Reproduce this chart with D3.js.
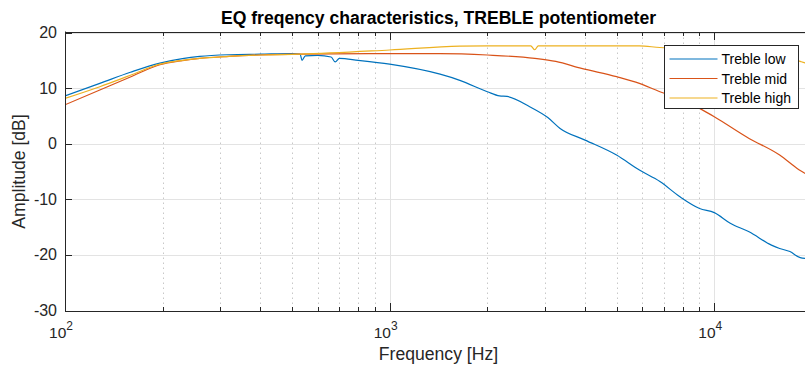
<!DOCTYPE html>
<html>
<head>
<meta charset="utf-8">
<script src="https://cdn.jsdelivr.net/npm/d3@7"></script>
<style>
    body { margin: 0; background: #fff; }
    text { font-family: "Liberation Sans", Arial, Helvetica, sans-serif; fill: #262626; }
</style>
</head>
<body>
<script>
// Series data (frequency in Hz, amplitude in dB)
const lowFreq = [100, 128, 159, 196, 230, 260, 320, 400, 500, 530, 537, 550, 600, 660, 680, 700, 800, 1000, 1430, 1645, 2000, 2180, 2300, 2700, 3070, 3350, 4000, 5000, 5880, 6800, 7840, 9010, 10000, 11200, 12800, 15000, 15900, 17100, 18400, 19500, 20000];
const lowDb = [8.6, 10.85, 12.85, 14.5, 15.3, 15.7, 16.0, 16.1, 16.2, 16.1, 15.0, 15.8, 15.9, 15.6, 14.7, 15.35, 15.0, 14.3, 12.5, 11.4, 9.35, 8.6, 8.5, 6.65, 4.7, 2.75, 0.65, -2.05, -4.75, -6.8, -9.55, -11.65, -12.4, -14.3, -15.85, -18.25, -18.85, -19.4, -20.5, -20.7, -20.8];

const midFreq = [100, 128, 159, 196, 230, 260, 320, 400, 530, 1000, 1430, 2000, 2800, 3250, 3900, 5000, 5880, 6800, 7840, 9010, 10000, 12800, 15900, 18000, 19500, 20000];
const midDb = [7.0, 9.65, 12.0, 14.2, 14.95, 15.35, 15.7, 15.95, 16.1, 16.2, 16.2, 15.95, 15.35, 14.8, 13.55, 12.05, 10.85, 9.35, 8.15, 6.35, 4.85, 0.95, -2.05, -4.45, -5.8, -6.4];

const highFreq = [100, 128, 159, 196, 230, 260, 320, 400, 530, 1000, 1645, 2000, 2720, 2800, 2870, 5880, 6800, 9000, 12000, 16000, 18400, 19500, 20000];
const highDb = [8.15, 10.25, 12.3, 14.3, 15.0, 15.35, 15.7, 15.95, 16.1, 16.85, 17.55, 17.6, 17.6, 16.9, 17.6, 17.6, 17.3, 17.1, 16.6, 15.6, 14.8, 14.3, 14.0];

const seriesNames = ["Treble low", "Treble mid", "Treble high"];
const seriesColors = ["#0072BD", "#D95319", "#EDB120"];

const yTicks = [-30, -20, -10, 0, 10, 20];
const xDecades = [100, 1000, 10000];

// Layout
const width = 805, height = 367;
const margin = { left: 65, top: 32.5, right: 812, bottom: 310.5 };

const x = d3.scaleLog().domain([100, 20000]).range([margin.left, margin.right]);
const y = d3.scaleLinear().domain([-30, 20]).range([margin.bottom, margin.top]);

const svg = d3.select("body")
    .append("svg")
    .attr("width", width)
    .attr("height", height);

// Clip to the axes box
svg.append("defs")
    .append("clipPath").attr("id", "plotClip")
    .append("rect")
    .attr("x", margin.left)
    .attr("y", margin.top)
    .attr("width", margin.right - margin.left)
    .attr("height", margin.bottom - margin.top);

// minor x ticks: 2..9 of every decade
const minorTicks = [];
xDecades.forEach(d => {
    for (let k = 2; k <= 9; ++k) {
        if (d * k <= 20000) minorTicks.push(d * k);
    }
});

// Grid
const grid = svg.append("g").attr("clip-path", "url(#plotClip)");
grid.selectAll(".minorGrid")
    .data(minorTicks)
    .join("line")
    .attr("x1", d => Math.round(x(d)) + 0.5)
    .attr("x2", d => Math.round(x(d)) + 0.5)
    .attr("y1", margin.top)
    .attr("y2", margin.bottom)
    .attr("stroke", "#c8c8c8")
    .attr("stroke-width", 1)
    .attr("stroke-dasharray", "1.5,3.5");
grid.selectAll(".majorGridX")
    .data(xDecades)
    .join("line")
    .attr("x1", d => Math.round(x(d)) + 0.5)
    .attr("x2", d => Math.round(x(d)) + 0.5)
    .attr("y1", margin.top)
    .attr("y2", margin.bottom)
    .attr("stroke", "#e3e3e3")
    .attr("stroke-width", 1);
grid.selectAll(".majorGridY")
    .data(yTicks)
    .join("line")
    .attr("x1", margin.left)
    .attr("x2", margin.right)
    .attr("y1", d => Math.round(y(d)) + 0.5)
    .attr("y2", d => Math.round(y(d)) + 0.5)
    .attr("stroke", "#e3e3e3")
    .attr("stroke-width", 1.2);

// Curves
const line = d3.line()
    .x(d => x(d[0]))
    .y(d => y(d[1]))
    .curve(d3.curveMonotoneX);

const seriesData = [
    d3.zip(lowFreq, lowDb),
    d3.zip(midFreq, midDb),
    d3.zip(highFreq, highDb)
];

const curves = svg.append("g").attr("clip-path", "url(#plotClip)");
curves.selectAll("path")
    .data(seriesData)
    .join("path")
    .attr("d", line)
    .attr("fill", "none")
    .attr("stroke", (d, i) => seriesColors[i])
    .attr("stroke-width", 1.2);

// Axes box and ticks
const axes = svg.append("g");
const axisColor = "#262626";
axes.append("line")
    .attr("x1", margin.left).attr("x2", margin.right)
    .attr("y1", Math.round(margin.bottom) + 0.5).attr("y2", Math.round(margin.bottom) + 0.5)
    .attr("stroke", axisColor).attr("stroke-width", 1);
axes.append("line")
    .attr("x1", margin.left).attr("x2", margin.right)
    .attr("y1", Math.round(margin.top) - 0.5).attr("y2", Math.round(margin.top) - 0.5)
    .attr("stroke", axisColor).attr("stroke-width", 1);
axes.append("line")
    .attr("x1", margin.left + 0.5).attr("x2", margin.left + 0.5)
    .attr("y1", margin.top - 1).attr("y2", margin.bottom + 1)
    .attr("stroke", axisColor).attr("stroke-width", 1);

// y ticks (inward) and labels
axes.selectAll(".yTick")
    .data(yTicks)
    .join("line")
    .attr("x1", margin.left)
    .attr("x2", margin.left + 7)
    .attr("y1", d => Math.round(y(d)) + 0.5)
    .attr("y2", d => Math.round(y(d)) + 0.5)
    .attr("stroke", axisColor);
axes.selectAll(".yLabel")
    .data(yTicks)
    .join("text")
    .attr("x", margin.left - 8)
    .attr("y", d => y(d) + 5.5)
    .attr("text-anchor", "end")
    .attr("font-size", 16)
    .text(d => d);

// x ticks on bottom and top edges
[{ y0: Math.round(margin.bottom), dir: -1 }, { y0: Math.round(margin.top) - 1, dir: 1 }].forEach(edge => {
    axes.selectAll(null)
        .data(minorTicks)
        .join("line")
        .attr("x1", d => Math.round(x(d)) + 0.5)
        .attr("x2", d => Math.round(x(d)) + 0.5)
        .attr("y1", edge.y0)
        .attr("y2", edge.y0 + edge.dir * 4)
        .attr("stroke", axisColor);
    axes.selectAll(null)
        .data(xDecades)
        .join("line")
        .attr("x1", d => Math.round(x(d)) + 0.5)
        .attr("x2", d => Math.round(x(d)) + 0.5)
        .attr("y1", edge.y0)
        .attr("y2", edge.y0 + edge.dir * 8)
        .attr("stroke", axisColor);
});

// decade labels as 10^n
const xLabels = axes.selectAll(".xLabel")
    .data(xDecades)
    .join("text")
    .attr("x", d => x(d) - 4)
    .attr("y", 338)
    .attr("text-anchor", "middle")
    .attr("font-size", 15.5);
xLabels.append("tspan").text("10");
xLabels.append("tspan")
    .attr("dy", -8)
    .attr("font-size", 12)
    .text(d => Math.round(Math.log10(d)));

// Title and axis labels
svg.append("text")
    .attr("x", (margin.left + margin.right) / 2)
    .attr("y", 23.5)
    .attr("text-anchor", "middle")
    .attr("font-size", 17.6)
    .attr("font-weight", "bold")
    .style("fill", "#000")
    .text("EQ freqency characteristics, TREBLE potentiometer");
svg.append("text")
    .attr("x", (margin.left + margin.right) / 2)
    .attr("y", 360)
    .attr("text-anchor", "middle")
    .attr("font-size", 17.6)
    .text("Frequency [Hz]");
svg.append("text")
    .attr("transform", `translate(25, ${(margin.top + margin.bottom) / 2}) rotate(-90)`)
    .attr("text-anchor", "middle")
    .attr("font-size", 17.6)
    .text("Amplitude [dB]");

// Legend
const legend = svg.append("g").attr("transform", "translate(664.5, 45.5)");
legend.append("rect")
    .attr("width", 134)
    .attr("height", 63)
    .attr("fill", "#fff")
    .attr("stroke", axisColor)
    .attr("stroke-width", 1);
const legendRows = legend.selectAll(".row")
    .data(seriesNames)
    .join("g")
    .attr("transform", (d, i) => `translate(0, ${13.5 + i * 19.5})`);
legendRows.append("line")
    .attr("x1", 5)
    .attr("x2", 53)
    .attr("stroke", (d, i) => seriesColors[i])
    .attr("stroke-width", 1.2);
legendRows.append("text")
    .attr("x", 57)
    .attr("y", 5)
    .attr("font-size", 14)
    .style("fill", "#000")
    .text(d => d);
</script>
</body>
</html>
